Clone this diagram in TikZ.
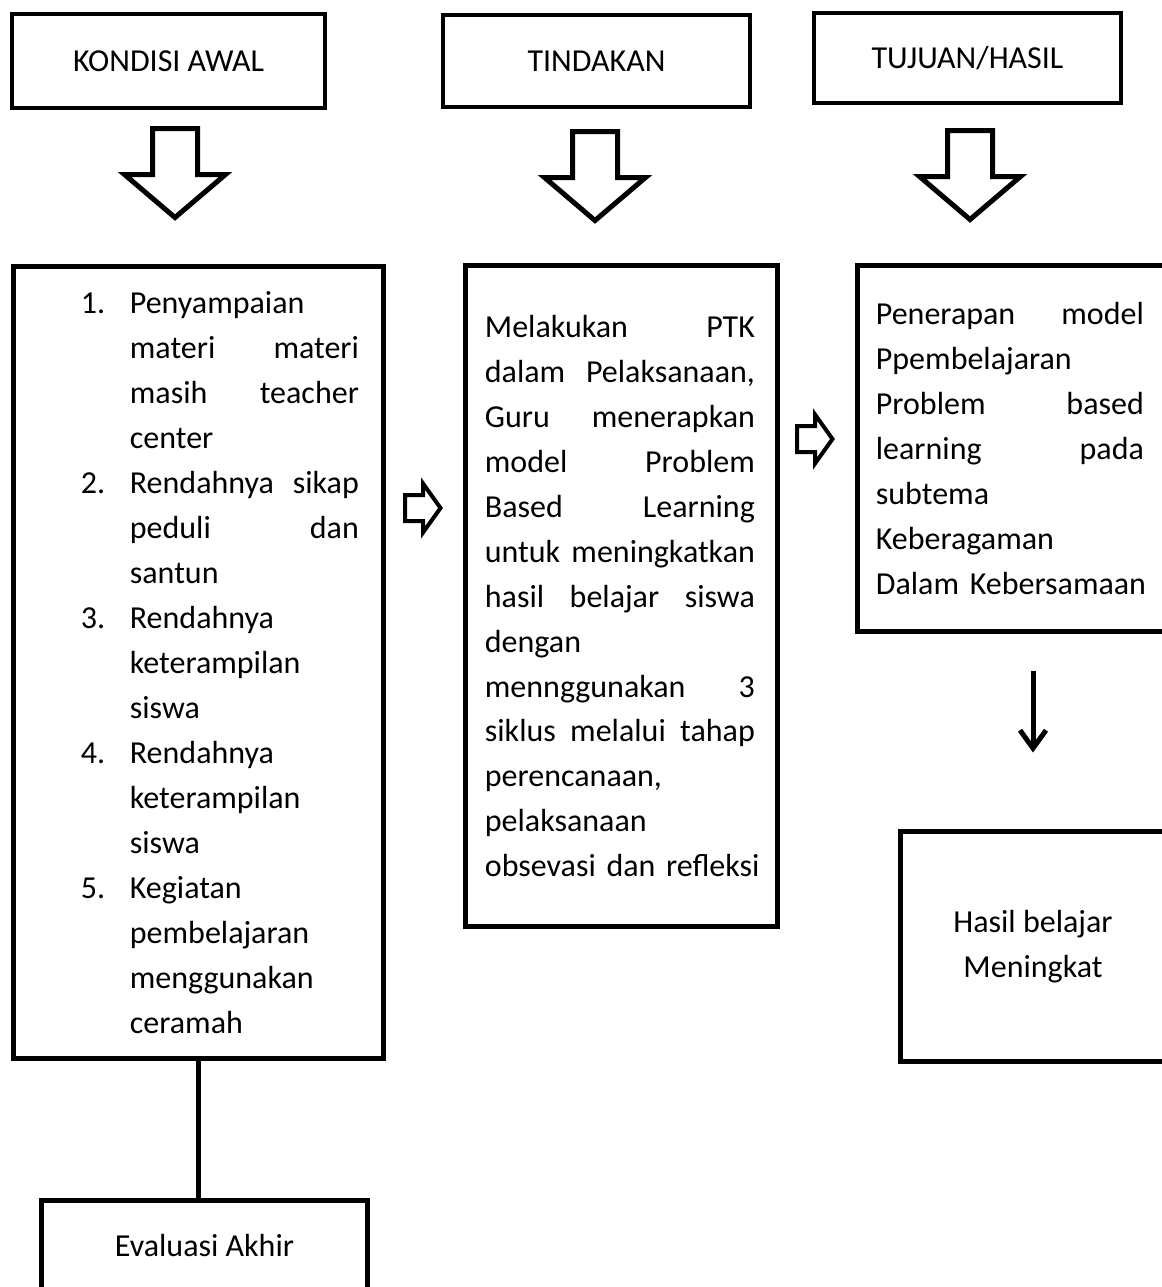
\documentclass[tikz,border=0pt]{standalone}
\usepackage{fontspec}
\setmainfont{Carlito}
\usetikzlibrary{positioning,arrows.meta}
\newcommand\itemno[1]{\makebox[24.5pt][l]{#1.}}
\newcommand\itemgap{\hspace*{24.5pt}}
\newcommand\rata[1]{\leavevmode\hbox to\linewidth{#1}}
\begin{document}
\begin{tikzpicture}[x=0.5pt,y=-0.5pt]
\tikzstyle{every node}=[inner sep=0pt,font=\fontsize{16}{22.5}\selectfont]
\tikzstyle{box}=[draw,rectangle,line width=2.5pt]
\tikzstyle{head}=[box,line width=2pt]
\tikzstyle{txt}=[align=left]
\tikzstyle{blok}=[line width=2.5pt,line join=miter]
\useasboundingbox (0,0) rectangle (1162,1287);
\clip (0,0) rectangle (1162,1287);
% judul
\node[head,minimum width=156.5pt,minimum height=47pt](kondisi) at (168.5,61) {KONDISI AWAL};
\node[head,minimum width=153.5pt,minimum height=46pt](tindakan) at (596.5,61) {TINDAKAN};
\node[head,minimum width=153.5pt,minimum height=45pt](tujuan) at (967.5,58) {TUJUAN/HASIL};
% panah besar ke bawah
\foreach \x/\y in {175/128.5,595/131.5,970/130.5}
  \draw[blok] (\x-22.5,\y) -- (\x+22.5,\y) -- (\x+22.5,\y+46) -- (\x+50.5,\y+46)
    -- (\x,\y+89) -- (\x-50.5,\y+46) -- (\x-22.5,\y+46) -- cycle;
% kotak isi
\node[box,minimum width=185pt,minimum height=396pt](isi1) at (198,662.5) {};
\node[box,minimum width=156pt,minimum height=330.5pt](isi2) at (621.5,596) {};
\node[box,minimum width=155.25pt,minimum height=183pt](isi3) at (1012.75,448.5) {};
\node[txt,text width=139pt,right=35pt of isi1.west](kondisiteks) {%
\itemno{1}Penyampaian\\
\rata{\itemgap materi\hfill materi}\\
\rata{\itemgap masih\hfill teacher}\\
\itemgap center\\
\rata{\itemno{2}Rendahnya\hfill sikap}\\
\rata{\itemgap peduli\hfill dan}\\
\itemgap santun\\
\itemno{3}Rendahnya\\
\itemgap keterampilan\\
\itemgap siswa\\
\itemno{4}Rendahnya\\
\itemgap keterampilan\\
\itemgap siswa\\
\itemno{5}Kegiatan\\
\itemgap pembelajaran\\
\itemgap menggunakan\\
\itemgap ceramah};
\node[txt,text width=135pt,right=10.75pt of isi2.west](tindakanteks) {%
\rata{Melakukan\hfill PTK}\\
\rata{dalam\hfill Pelaksanaan,}\\
\rata{Guru\hfill menerapkan}\\
\rata{model\hfill Problem}\\
\rata{Based\hfill Learning}\\
\rata{untuk\hfill meningkatkan}\\
\rata{hasil\hfill belajar\hfill siswa}\\
dengan\\
\rata{mennggunakan\hfill 3}\\
\rata{siklus\hfill melalui\hfill tahap}\\
perencanaan,\\
pelaksanaan\\
\mbox{obsevasi dan refleksi}};
\node[txt,text width=134pt,right=10.25pt of isi3.west](tujuanteks) {%
\rata{Penerapan\hfill model}\\
Ppembelajaran\\
\rata{Problem\hfill based}\\
\rata{learning\hfill pada}\\
subtema\\
Keberagaman\\
\mbox{Dalam Kebersamaan}};
% panah kecil ke kanan
\foreach \x/\y in {405/508,797/439}
  \draw[blok,line width=2pt] (\x,\y-13) -- (\x+18,\y-13) -- (\x+18,\y-24.5) -- (\x+35.5,\y)
    -- (\x+18,\y+24.5) -- (\x+18,\y+13) -- (\x,\y+13) -- cycle;
\node[box,minimum width=132.5pt,minimum height=115pt,align=center](hasil) at (1033,946.5) {Hasil belajar\\Meningkat};
\node[box,minimum width=163pt,minimum height=44.75pt](evaluasi) at (204.5,1245) {Evaluasi Akhir};
\draw[-{Straight Barb[length=9pt,width=13pt]},line width=2.5pt,shorten <=18.25pt,shorten >=38.25pt]
  (hasil.north |- isi3.south) -- (hasil.north);
\draw[line width=2.5pt] (isi1.south) -- (isi1.south |- evaluasi.north);
\end{tikzpicture}
\end{document}
